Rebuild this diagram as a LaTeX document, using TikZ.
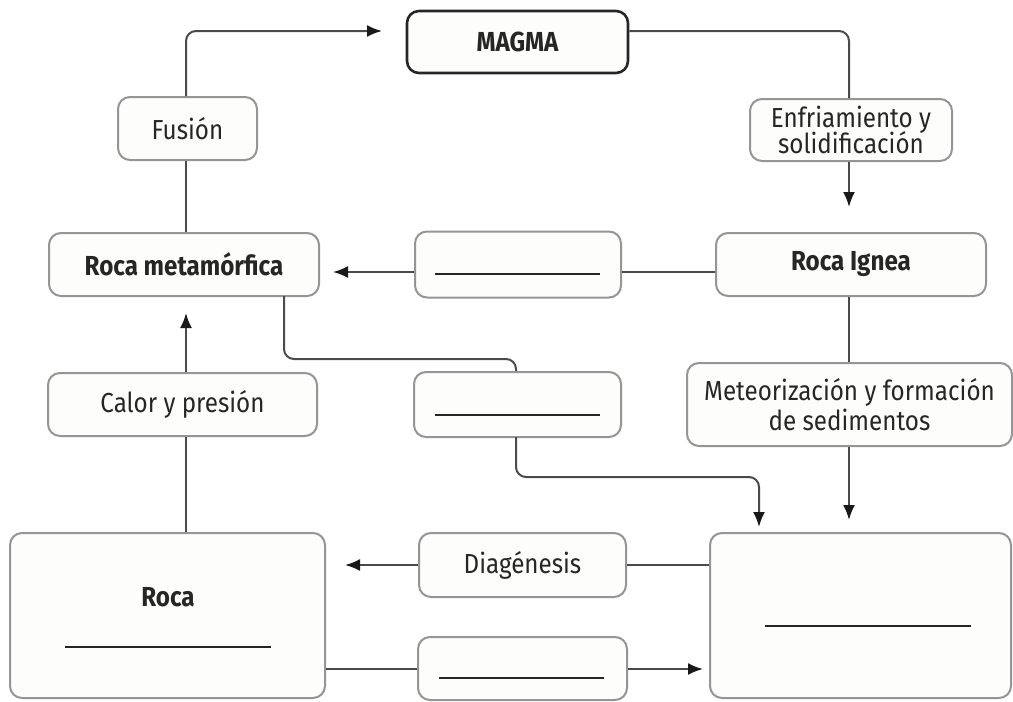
\documentclass[tikz,border=0pt]{standalone}
\usepackage{fontspec}
\setmainfont{Fira Sans}[FakeStretch=0.88]
\usetikzlibrary{arrows.meta}
\definecolor{boxline}{HTML}{959595}
\definecolor{connc}{HTML}{4A4A4A}
\definecolor{txt}{HTML}{262626}
\definecolor{boxfill}{HTML}{FDFDFB}
\tikzset{
 box/.style={draw=boxline, line width=2pt, fill=boxfill, rounded corners=12pt, text=txt, align=center, inner sep=0pt, font=\fontsize{27.5}{30}\selectfont},
 conn/.style={draw=connc, line width=2pt, rounded corners=10pt},
 arr/.style={conn, -{Latex[length=15pt,width=12pt,color=black!90]}},
 blankline/.style={draw=txt, line width=1.6pt}
}
\begin{document}
\begin{tikzpicture}[x=1pt,y=-1pt]
\useasboundingbox (0,0) rectangle (1013,702);
\fill[white] (0,0) rectangle (1013,702);
% boxes
\node[box, draw=black!85, line width=2.6pt, minimum width=221pt, minimum height=62pt] (magma) at (517.5,42) {\bfseries MAGMA};
\node[box, minimum width=139pt, minimum height=63pt] (fusion) at (187.5,128.5) {Fusión};
\node[box, minimum width=270pt, minimum height=63pt] (rmeta) at (184,264.5) {\bfseries Roca metamórfica};
\node[box, minimum width=206pt, minimum height=66pt] (blank1) at (518,264.5) {};
\node[box, minimum width=270pt, minimum height=63pt] (rignea) at (851,264.5) {\bfseries Roca Ignea};
\node[box, minimum width=202pt, minimum height=62pt] (enfri) at (851,130) {Enfriamiento y\\[-4pt]solidificación};
\node[box, minimum width=325pt, minimum height=83pt] (meteo) at (849.5,404.5) {Meteorización y formación\\de sedimentos};
\node[box, minimum width=207pt, minimum height=65pt] (blank2) at (517.5,404.5) {};
\node[box, minimum width=269pt, minimum height=63pt] (calor) at (182.5,404.5) {Calor y presión};
\node[box, minimum width=315pt, minimum height=165pt] (roca) at (167.5,615.5) {};
\node[box, minimum width=207pt, minimum height=64pt] (diag) at (522.5,565) {Diagénesis};
\node[box, minimum width=209pt, minimum height=63pt] (blank3) at (522.5,668.5) {};
\node[box, minimum width=301pt, minimum height=165pt] (sedim) at (860.5,615.5) {};
\node[text=txt, font=\fontsize{27.5}{30}\selectfont\bfseries] (rocatxt) at (168,597) {Roca};
% blank lines
\draw[blankline] (435,274) -- (600,274);
\draw[blankline] (435,415) -- (600,415);
\draw[blankline] (439,678) -- (604,678);
\draw[blankline] (65,647) -- (271,647);
\draw[blankline] (765,626) -- (971,626);
% coordinates
\coordinate (m1) at (382,31);
\coordinate (c186) at (186,0);
\coordinate (c849) at (849,0);
\coordinate (y272) at (0,272);
\coordinate (y565) at (0,565);
\coordinate (y669) at (0,669);
\coordinate (t1) at (849,207);
\coordinate (t2) at (333,272);
\coordinate (t3) at (849,520);
\coordinate (t4) at (759,527);
\coordinate (t5) at (345,565);
\coordinate (t6) at (186,313);
\coordinate (t7) at (703,669);
\coordinate (r1) at (284,296);
\coordinate (r2) at (284,359);
\coordinate (r3) at (516,359);
\coordinate (b1) at (516,437);
\coordinate (b2) at (516,477);
\coordinate (b3) at (759,477);
% connectors
\draw[arr] (c186 |- fusion.north) |- (m1);
\draw[conn] (magma.east |- m1) -| (c849 |- enfri.north);
\draw[arr] (c849 |- enfri.south) -- (t1);
\draw[conn] (c186 |- fusion.south) -- (c186 |- rmeta.north);
\draw[conn] (rignea.west |- y272) -- (blank1.east |- y272);
\draw[arr] (blank1.west |- y272) -- (t2);
\draw[conn] (c849 |- rignea.south) -- (c849 |- meteo.north);
\draw[arr] (c849 |- meteo.south) -- (t3);
\draw[conn] (r1) -- (r2) -- (r3) -- (r3 |- blank2.north);
\draw[arr] (b1) -- (b2) -- (b3) -- (t4);
\draw[conn] (sedim.west |- y565) -- (diag.east |- y565);
\draw[arr] (diag.west |- y565) -- (t5);
\draw[conn] (c186 |- roca.north) -- (c186 |- calor.south);
\draw[arr] (c186 |- calor.north) -- (t6);
\draw[conn] (roca.east |- y669) -- (blank3.west |- y669);
\draw[arr] (blank3.east |- y669) -- (t7);
\end{tikzpicture}
\end{document}
